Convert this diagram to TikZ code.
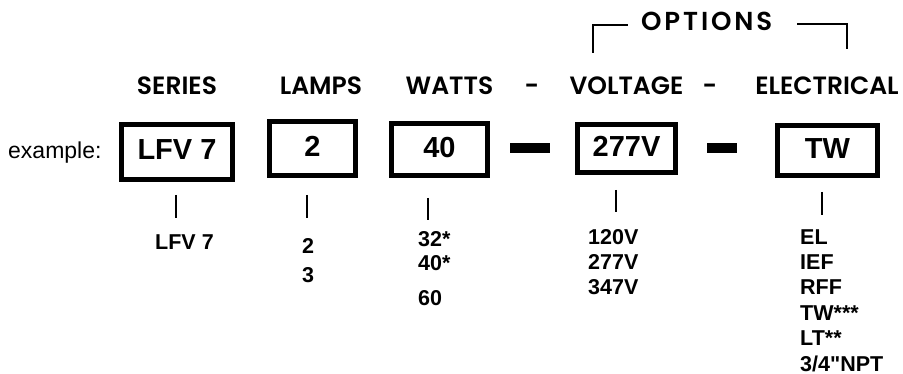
\documentclass[tikz,border=0pt]{standalone}
\usepackage{fontspec}
\setmainfont[Ligatures=TeXOff]{Liberation Sans}
\newfontfamily\hdrfont{Poppins SemiBold}
\newfontfamily\hdrwide[LetterSpace=11]{Poppins SemiBold}
\begin{document}
\begin{tikzpicture}[x=1pt,y=-1pt,
  hdr/.style={anchor=base,inner sep=0pt,font=\hdrfont\fontsize{25}{30}\selectfont},
  codebox/.style={draw,line width=4.8pt,inner sep=0pt,text height=21pt,text depth=5pt,
    font=\bfseries\fontsize{29}{34}\selectfont},
  opt/.style={anchor=base west,inner sep=0pt,font=\bfseries\fontsize{21.5}{24}\selectfont},
  bar/.style={fill=black,inner sep=0pt,minimum height=10pt},
  tick/.style={line width=2.5pt},
  brk/.style={line width=2pt}]
\useasboundingbox (0,0) rectangle (903,374);
% headers
\node[anchor=base west,inner sep=0pt,font=\hdrwide\fontsize{26}{30}\selectfont] (hopt) at (641,31) {OPTIONS};
\node[hdr] (hser) at (177,95) {SERIES};
\node[hdr] (hlam) at (321,95) {LAMPS};
\node[hdr] (hwat) at (449.5,95) {WATTS};
\node[hdr] (hd1) at (532,95) {-};
\node[hdr] (hvol) at (626.5,95) {VOLTAGE};
\node[hdr] (hd2) at (710,95) {-};
\node[hdr] (hele) at (827,95) {ELECTRICAL};
% options bracket
\coordinate (bl1) at (593,53);
\coordinate (bl2) at (628,25);
\coordinate (br1) at (797,24);
\coordinate (br2) at (847,49);
\draw[brk] (bl1) |- (bl2);
\draw[brk] (br1) -| (br2);
% example row
\node[anchor=base west,inner sep=0pt,font=\fontsize{23}{28}\selectfont] (ex) at (8,159) {example:};
\node[codebox,minimum width=111pt,minimum height=55pt] (bser) at (177,152) {LFV 7};
\node[codebox,minimum width=86pt,minimum height=54pt] (blam) at (312.5,148.5) {2};
\node[codebox,minimum width=96pt,minimum height=52pt] (bwat) at (439.5,149.5) {40};
\node[bar,minimum width=40pt] (dash1) at (530,148) {};
\node[codebox,minimum width=98pt,minimum height=48pt] (bvol) at (626.5,148.5) {277V};
\node[bar,minimum width=30pt] (dash2) at (722,148) {};
\node[codebox,minimum width=100pt,minimum height=50pt] (bele) at (827.5,150.5) {TW};
% ticks
\coordinate (t1a) at (176,195); \coordinate (t1b) at (176,218);
\coordinate (t2a) at (307,195); \coordinate (t2b) at (307,218);
\coordinate (t3a) at (428,198); \coordinate (t3b) at (428,220);
\coordinate (t4a) at (616,190); \coordinate (t4b) at (616,212);
\coordinate (t5a) at (822,192); \coordinate (t5b) at (822,215);
\draw[tick] (t1a) -- (t1b);
\draw[tick] (t2a) -- (t2b);
\draw[tick] (t3a) -- (t3b);
\draw[tick] (t4a) -- (t4b);
\draw[tick] (t5a) -- (t5b);
% option lists
\node[opt] (s1) at (155,250) {LFV 7};
\node[opt] (l1) at (302,254) {2};
\node[opt] (l2) at (302,283) {3};
\node[opt] (w1) at (418,247) {32*};
\node[opt] (w2) at (418,271) {40*};
\node[opt] (w3) at (418,306) {60};
\node[opt] (v1) at (588,244.5) {120V};
\node[opt] (v2) at (588,270) {277V};
\node[opt] (v3) at (588,295) {347V};
\node[opt] (e1) at (800,244.5) {EL};
\node[opt] (e2) at (800,270) {IEF};
\node[opt] (e3) at (800,295) {RFF};
\node[opt] (e4) at (800,320) {TW***};
\node[opt] (e5) at (800,345) {LT**};
\node[opt] (e6) at (800,371) {3/4"NPT};
\end{tikzpicture}
\end{document}
